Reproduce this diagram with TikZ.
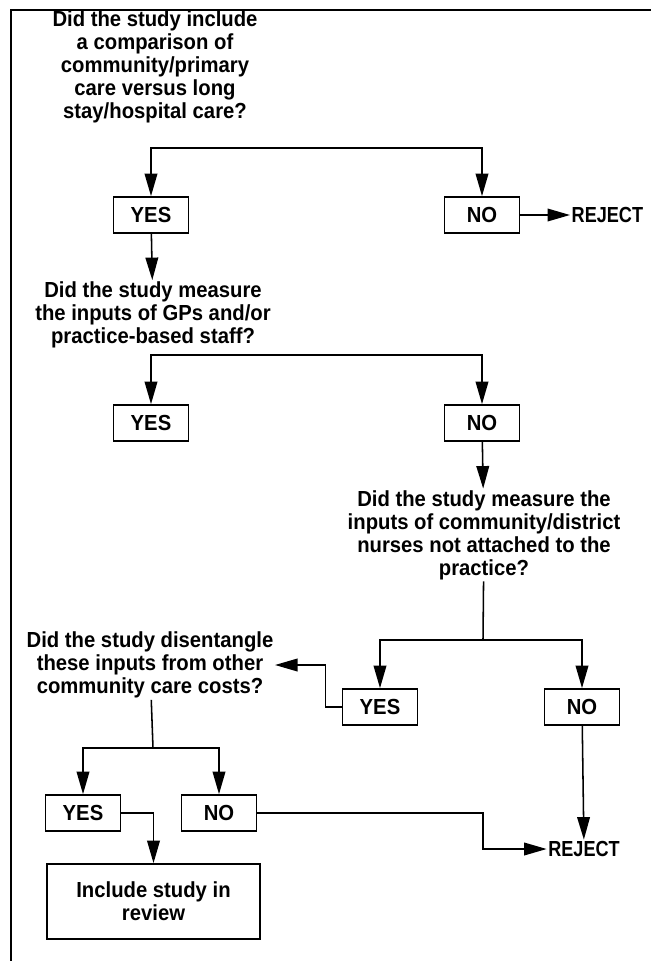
\documentclass[tikz,border=0pt]{standalone}
\usepackage{fontspec}
\setmainfont{Liberation Sans}[FakeStretch=0.93]
\newfontfamily\narrowsans{Liberation Sans}[FakeStretch=0.83]
\usetikzlibrary{arrows.meta}

\begin{document}
\begin{tikzpicture}[x=0.025cm,y=-0.025cm,
  every node/.style={font=\bfseries\fontsize{15.5}{16.4}\selectfont},
  txt/.style={align=center,inner sep=1pt},
  ans/.style={draw,line width=1.2pt,minimum width=1.875cm,minimum height=0.9cm,inner sep=0pt},
  rej/.style={inner sep=1pt,font=\narrowsans\bfseries\fontsize{15.5}{16.4}\selectfont},
  arr/.style={-{Triangle[length=16pt,width=9pt]},line width=1.1pt},
  ln/.style={line width=1.1pt}]
\useasboundingbox (0,0) rectangle (651,961);
\draw[line width=2pt] (11,961) -- (11,10) -- (651,10); % frame

% first question
\node[txt] (q1) at (155,67) {Did the study include\\a comparison of\\community/primary\\care versus long\\stay/hospital care?};
\coordinate (b1) at (318,148);
\node[ans] (yes1) at (151,215) {YES};
\node[ans] (no1) at (482,215) {NO};
\node[rej,anchor=west] (rej1) at (570,215) {REJECT};
\draw[arr] (b1) -| (yes1);
\draw[arr] (b1) -| (no1);
\draw[arr] (no1) -- (rej1);

% second question
\node[txt] (q2) at (153,315) {Did the study measure\\the inputs of GPs and/or\\practice-based staff?};
\draw[arr] (yes1) -- (q2);
\coordinate (b2) at (318,355);
\node[ans] (yes2) at (151,423) {YES};
\node[ans] (no2) at (482,423) {NO};
\draw[arr] (b2) -| (yes2);
\draw[arr] (b2) -| (no2);

% third question
\node[txt] (q3) at (484,535) {Did the study measure the\\inputs of community/district\\nurses not attached to the\\practice?};
\draw[arr] (no2) -- (q3);
\coordinate (b3) at (483,640);
\node[ans] (yes3) at (380,707) {YES};
\node[ans] (no3) at (582,707) {NO};
\draw[ln] (q3) -- (b3);
\draw[arr] (b3) -| (yes3);
\draw[arr] (b3) -| (no3);

% fourth question
\node[txt] (q4) at (150,665) {Did the study disentangle\\these inputs from other\\community care costs?};
\draw[arr] (yes3.west) -- ++(-16,0) |- (q4.east);
\coordinate (b4) at (153,748);
\node[ans] (yes4) at (83,813) {YES};
\node[ans] (no4) at (219,813) {NO};
\draw[ln] (q4) -- (b4);
\draw[arr] (b4) -| (yes4);
\draw[arr] (b4) -| (no4);

% outcome
\node[draw,line width=1.2pt,align=center,minimum width=5.325cm,minimum height=1.875cm] (incl) at (153.5,901.5) {Include study in\\review};
\draw[arr] (yes4.east) -| (incl);
\node[rej] (rej2) at (584,849) {REJECT};
\draw[arr] (no3) -- (rej2);
\draw[arr] (no4.east) -| (483,849) -- (rej2.west);
\end{tikzpicture}
\end{document}
